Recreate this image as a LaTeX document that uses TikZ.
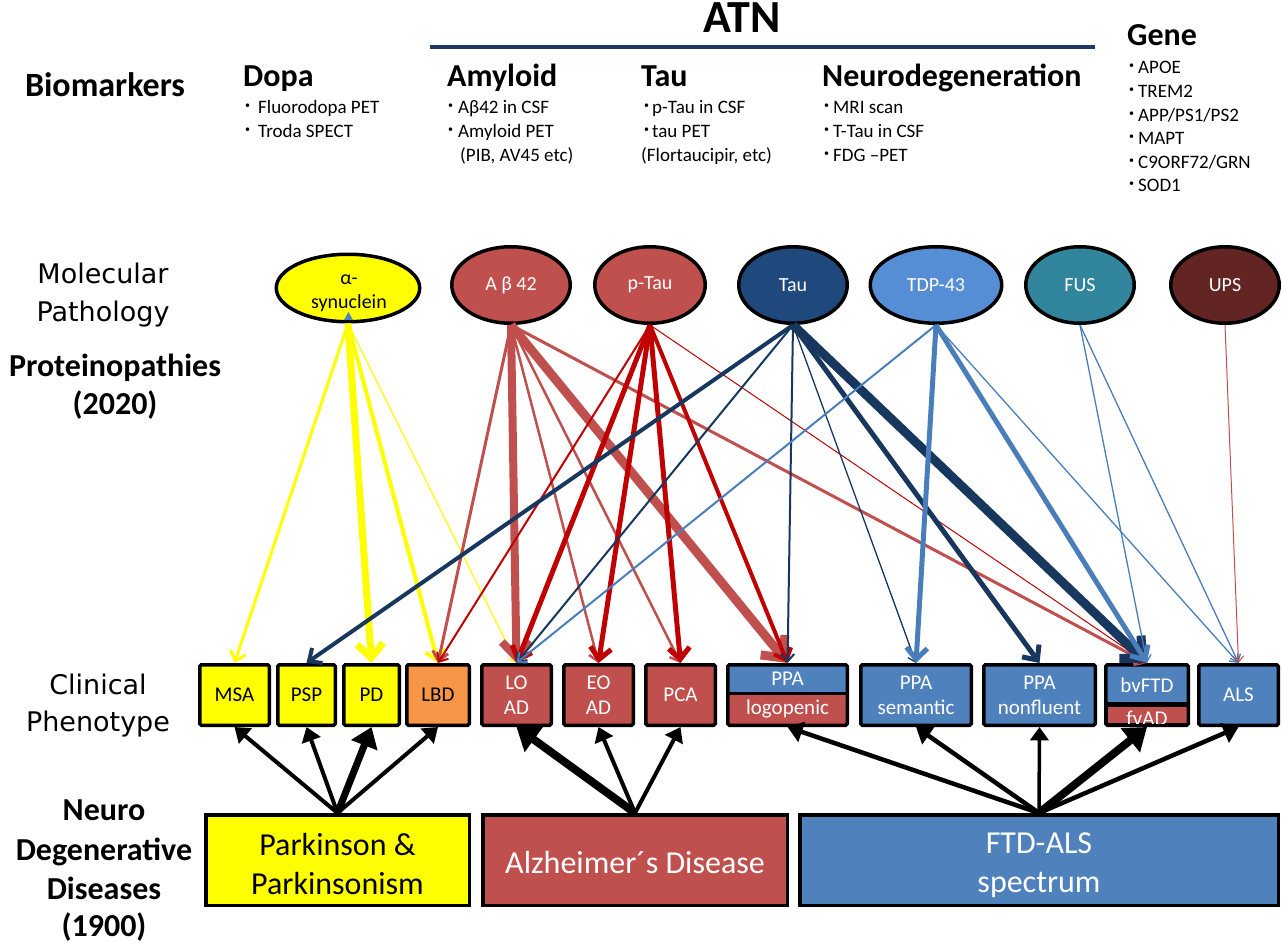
\documentclass[tikz,border=0pt]{standalone}
\usepackage{fontspec}
\setmainfont{Carlito}
\newfontfamily\dvs{DejaVu Sans}
\usetikzlibrary{arrows.meta,shapes.geometric}
\definecolor{cyel}{HTML}{FFFF00}
\definecolor{corange}{HTML}{F79646}
\definecolor{cred}{HTML}{C0504D}
\definecolor{cblue}{HTML}{4F81BD}
\definecolor{cdred}{HTML}{C00000}
\definecolor{cnavy}{HTML}{17375E}
\definecolor{ctau}{HTML}{1F497D}
\definecolor{ctdp}{HTML}{558ED5}
\definecolor{cfus}{HTML}{31859C}
\definecolor{cups}{HTML}{632523}
\definecolor{carrblue}{HTML}{4A7EBB}
\definecolor{cline}{HTML}{1F3864}
\newcommand{\fs}[2]{\fontsize{#1}{#2}\selectfont}
\newcommand{\bu}[1][10]{\makebox[#1pt][l]{\raisebox{5pt}{\fontsize{10}{10}\selectfont •}}}
\begin{document}
\begin{tikzpicture}[x=1pt,y=-1pt,
  ell/.style={ellipse, draw=black, line width=3.5pt, inner sep=0pt, text=white, font=\fs{20}{24}},
  pbox/.style={rectangle, draw=black, line width=3.5pt, rounded corners=1.5pt, minimum height=60.5pt, inner sep=0pt, align=center, font=\fs{21}{25}},
  dbox/.style={rectangle, draw=black, line width=3.5pt, minimum height=90.5pt, inner sep=0pt},
  dtext/.style={align=center, inner sep=0pt, font=\fs{32}{39}},
  bl/.style={anchor=base west, inner sep=0pt, font=\fs{19}{24}},
  hd/.style={anchor=base west, inner sep=0pt, font=\bfseries\fs{32}{38}},
  lab/.style={anchor=base, inner sep=0pt},
  carr/.style={-{Straight Barb[length=5pt 1.3, width=8pt 2.6]}},
  karr/.style={draw=black, -{Triangle[length=7pt 1.8, width=9pt 2.6]}},
  ]
\useasboundingbox (0,0) rectangle (1282,942);

% ---------- header ----------
\node[lab, font=\bfseries\fs{46}{50}] (atn) at (742,33) {ATN};
\draw[cline, line width=4pt] (430,47) -- (1095,47);
\node[lab, font=\bfseries\fs{34}{40}] (bio) at (105,96) {Biomarkers};

\node[hd] (dopa) at (243,86) {Dopa};
\node[hd] (amyl) at (447,86) {Amyloid};
\node[hd] (tauh) at (641,86) {Tau};
\node[hd] (neuro) at (822,86) {Neurodegeneration};
\node[hd] (gene) at (1127,46) {Gene};

\foreach \t [count=\i from 0] in {Fluorodopa PET, Troda SPECT}
  \node[bl] (dopa\i) at (245,{113+24*\i}) {\bu[13]\t};
\node[bl] (amy0) at (448,113) {\bu Aβ42 in CSF};
\node[bl] (amy1) at (448,137) {\bu Amyloid PET};
\node[bl] (amy2) at (460,161) {(PIB, AV45 etc)};
\node[bl] (tau0) at (644,113) {\bu[8]p-Tau in CSF};
\node[bl] (tau1) at (644,137) {\bu[8]tau PET};
\node[bl] (tau2) at (641,161) {(Flortaucipir, etc)};
\foreach \t [count=\i from 0] in {MRI scan, T-Tau in CSF, FDG –PET}
  \node[bl] (neu\i) at (824,{113+24*\i}) {\bu[9]\t};
\foreach \t [count=\i from 0] in {APOE, TREM2, APP/PS1/PS2, MAPT, C9ORF72/GRN, SOD1}
  \node[bl] (gene\i) at (1129,{74+23.5*\i}) {\bu[9]\t};

% ---------- left labels ----------
\node[lab, font=\dvs\fs{27}{38}] (mol1) at (103,283) {Molecular};
\node[lab, font=\dvs\fs{27}{38}] (mol2) at (103,321) {Pathology};
\node[lab, font=\bfseries\fs{32}{38}] (prot1) at (115,376) {Proteinopathies};
\node[lab, font=\bfseries\fs{32}{38}] (prot2) at (115,414) {(2020)};
\node[lab, font=\dvs\fs{27}{38}] (cli1) at (98,694) {Clinical};
\node[lab, font=\dvs\fs{27}{38}] (cli2) at (98,731) {Phenotype};
\node[lab, font=\bfseries\fs{32}{38}] (nd1) at (104,820) {Neuro};
\node[lab, font=\bfseries\fs{32}{38}] (nd2) at (104,860) {Degenerative};
\node[lab, font=\bfseries\fs{32}{38}] (nd3) at (104,899) {Diseases};
\node[lab, font=\bfseries\fs{32}{38}] (nd4) at (104,936) {(1900)};

% ---------- ellipses ----------
\node[ell, fill=cyel, minimum width=143.5pt, minimum height=67.5pt] (asyn) at (348,288) {};
\node[align=center, font=\fs{20}{24}, inner sep=0pt] (asynt) at (349,293) {α-\\synuclein};
\fill[cblue] (348.5,312) -- (344,320) -- (353,320) -- cycle;
\node[ell, fill=cred, minimum width=118.5pt, minimum height=76.5pt] (abeta) at (511,285) {A β 42};
\node[ell, fill=cred, minimum width=110.5pt, minimum height=76.5pt] (ptau) at (650,285) {p-Tau};
\node[ell, fill=ctau, minimum width=108.5pt, minimum height=76.5pt] (tau) at (793,285) {Tau};
\node[ell, fill=ctdp, minimum width=131.5pt, minimum height=76.5pt] (tdp) at (936,285) {TDP-43};
\node[ell, fill=cfus, minimum width=108.5pt, minimum height=76.5pt] (fus) at (1080,285) {FUS};
\node[ell, fill=cups, minimum width=108.5pt, minimum height=76.5pt] (ups) at (1225,285) {UPS};

% ---------- phenotype boxes ----------
\node[pbox, fill=cyel, minimum width=69.5pt] (msa) at (234.5,695) {MSA};
\node[pbox, fill=cyel, minimum width=57.5pt] (psp) at (306.5,695) {PSP};
\node[pbox, fill=cyel, minimum width=55.5pt] (pd) at (371.5,695) {PD};
\node[pbox, fill=corange, minimum width=62.5pt] (lbd) at (438,695) {LBD};
\node[pbox, fill=cred, text=white, minimum width=69.5pt] (load) at (516.5,695) {LO\\AD};
\node[pbox, fill=cred, text=white, minimum width=69.5pt] (eoad) at (598.5,695) {EO\\AD};
\node[pbox, fill=cred, text=white, minimum width=69.5pt] (pca) at (680.5,695) {PCA};
% logopenic
\fill[cblue] (727.75,664.75) rectangle (847.25,694);
\fill[cred] (727.75,694) rectangle (847.25,725.25);
\draw[line width=3.5pt] (727.75,693.5) -- (847.25,693.5);
\node[pbox, minimum width=119.5pt] (log) at (787.5,695) {};
\node[font=\fs{21}{25}, text=white, inner sep=0pt] (logt1) at (787.5,679) {PPA};
\node[font=\fs{21}{25}, text=white, inner sep=0pt] (logt2) at (787.5,709) {logopenic};
\node[pbox, fill=cblue, text=white, minimum width=110.5pt] (sem) at (916,695) {PPA\\semantic};
\node[pbox, fill=cblue, text=white, minimum width=111.5pt] (nonf) at (1039.5,695) {PPA\\nonfluent};
% bvFTD / fvAD
\fill[cblue] (1105.75,664.75) rectangle (1188.25,702);
\fill[black] (1105.75,702) rectangle (1188.25,725.25);
\fill[cred] (1107.5,707) rectangle (1186.5,723);
\node[pbox, minimum width=82.5pt] (bv) at (1147,695) {};
\node[font=\fs{21}{25}, text=white, inner sep=0pt] (bvt) at (1147,685) {bvFTD};
\begin{scope}
\clip (1107.5,707) rectangle (1186.5,723);
\node[anchor=base, font=\fs{21}{25}, text=white, inner sep=0pt] (fvad) at (1147,725) {fvAD};
\end{scope}
\node[pbox, fill=cblue, text=white, minimum width=79.5pt] (als) at (1238.5,695) {ALS};

% ---------- disease boxes ----------
\node[dbox, fill=cyel, minimum width=263.5pt] (park) at (337.5,860) {};
\node[dtext] (parkt) at (337.5,864) {Parkinson \&\\Parkinsonism};
\node[dbox, fill=cred, minimum width=304.5pt] (alz) at (635,860) {};
\node[dtext, text=white] (alzt) at (635,862) {Alzheimer´s Disease};
\node[dbox, fill=cblue, minimum width=478.5pt] (ftd) at (1039,860) {};
\node[dtext, text=white] (ftdt) at (1039,865) {FTD-ALS\\spectrum};

% ---------- arrows: pathology -> phenotype ----------
\draw[carr, cyel, line width=3pt] (asyn.south) -- (msa.north);
\draw[carr, cyel, line width=7pt] (asyn.south) -- (pd.north);
\draw[carr, cyel, line width=4pt] (asyn.south) -- (lbd.north);
\draw[carr, cyel, line width=1.2pt] (asyn.south) -- (load.north);

\draw[carr, cred, line width=3pt] (abeta.south) -- (lbd.north);
\draw[carr, cred, line width=8pt] (abeta.south) -- (load.north);
\draw[carr, cred, line width=2.5pt] (abeta.south) -- (eoad.north);
\draw[carr, cred, line width=2.5pt] (abeta.south) -- (pca.north);
\draw[carr, cred, line width=9pt] (abeta.south) -- (log.north);
\draw[carr, cred, line width=3pt] (abeta.south) -- (bv.north);

\draw[carr, cdred, line width=2pt] (ptau.south) -- (lbd.north);
\draw[carr, cdred, line width=5pt] (ptau.south) -- (load.north);
\draw[carr, cdred, line width=5pt] (ptau.south) -- (eoad.north);
\draw[carr, cdred, line width=5pt] (ptau.south) -- (pca.north);
\draw[carr, cdred, line width=4pt] (ptau.south) -- (log.north);
\draw[carr, cdred, line width=1pt] (ptau.south) -- (bv.north);

\draw[carr, cnavy, line width=4pt] (tau.south) -- (psp.north);
\draw[carr, cnavy, line width=2pt] (tau.south) -- (load.north);
\draw[carr, cnavy, line width=2pt] (tau.south) -- (log.north);
\draw[carr, cnavy, line width=1.3pt] (tau.south) -- (sem.north);
\draw[carr, cnavy, line width=5pt] (tau.south) -- (nonf.north);
\draw[carr, cnavy, line width=9pt] (tau.south) -- (bv.north);

\draw[carr, carrblue, line width=2pt] (tdp.south) -- (load.north);
\draw[carr, carrblue, line width=5pt] (tdp.south) -- (sem.north);
\draw[carr, carrblue, line width=5pt] (tdp.south) -- (bv.north);
\draw[carr, carrblue, line width=1.3pt] (tdp.south) -- (als.north);

\draw[carr, carrblue, line width=1.3pt] (fus.south) -- (bv.north);
\draw[carr, carrblue, line width=1.3pt] (fus.south) -- (als.north);

\draw[carr, cred, line width=1pt] (ups.south) -- (als.north);

% ---------- arrows: disease -> phenotype ----------
\draw[karr, line width=4pt] (park.north) -- (msa.south);
\draw[karr, line width=4pt] (park.north) -- (psp.south);
\draw[karr, line width=7pt] (park.north) -- (pd.south);
\draw[karr, line width=4pt] (park.north) -- (lbd.south);
\draw[karr, line width=8pt] (alz.north) -- (load.south);
\draw[karr, line width=4pt] (alz.north) -- (eoad.south);
\draw[karr, line width=4pt] (alz.north) -- (pca.south);
\draw[karr, line width=4.5pt] (ftd.north) -- (log.south);
\draw[karr, line width=4.5pt] (ftd.north) -- (sem.south);
\draw[karr, line width=3.5pt] (ftd.north) -- (nonf.south);
\draw[karr, line width=8pt] (ftd.north) -- (bv.south);
\draw[karr, line width=4.5pt] (ftd.north) -- (als.south);
\end{tikzpicture}
\end{document}
